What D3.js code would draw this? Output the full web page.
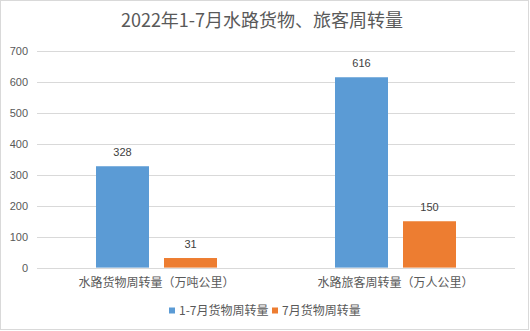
<!DOCTYPE html>
<html><head><meta charset="utf-8">
<script src="https://cdn.jsdelivr.net/npm/d3@7"></script>
<style>
html,body{margin:0;padding:0;background:#fff;}
svg{display:block;font-family:"Noto Sans CJK SC","Liberation Sans",sans-serif;}
</style></head>
<body>
<script>
const title = "2022年1-7月水路货物、旅客周转量";
const categories = ["水路货物周转量（万吨公里）", "水路旅客周转量（万人公里）"];
const seriesNames = ["1-7月货物周转量", "7月货物周转量"];
const series1 = [328, 616];
const series2 = [31, 150];
const yTicks = [0, 100, 200, 300, 400, 500, 600, 700];
const colors = ["#5b9bd5", "#ed7d31"];

(function () {
const W = 530, H = 331;
const svg = d3.select("body").append("svg").attr("width", W).attr("height", H);
svg.append("rect").attr("x", 0.5).attr("y", 0.5).attr("width", W - 2).attr("height", H - 2)
  .attr("fill", "#fff").attr("stroke", "#d9d9d9");

const pLeft = 37, pRight = 515, pTop = 51.3, pBottom = 267.6;
const x0 = d3.scaleBand().domain(categories).range([pLeft, pRight]);
const y = d3.scaleLinear().domain([0, 700]).range([pBottom, pTop]);

svg.append("text").attr("x", 262).attr("y", 27).attr("text-anchor", "middle")
  .attr("font-size", 18).attr("fill", "#595959").text(title);

svg.append("g").selectAll("line").data(yTicks).join("line")
  .attr("x1", pLeft).attr("x2", pRight)
  .attr("y1", d => Math.round(y(d)) + 0.5).attr("y2", d => Math.round(y(d)) + 0.5)
  .attr("stroke", "#d9d9d9").attr("stroke-width", 1);

const yAxis = svg.append("g").attr("transform", `translate(${pLeft - 9},0)`)
  .call(d3.axisLeft(y).tickValues(yTicks).tickSize(0).tickPadding(0));
yAxis.select(".domain").remove();
yAxis.selectAll("text").attr("font-size", 11).attr("fill", "#595959")
  .attr("font-family", "'Liberation Sans','Noto Sans CJK SC',sans-serif");

const groupW = 121;
const x1 = d3.scaleBand().domain([0, 1]).range([0, groupW]).paddingInner(15 / 68);

categories.forEach((c, i) => {
  const cx = x0(c) + x0.bandwidth() / 2;
  const startX = cx - groupW / 2;
  [series1[i], series2[i]].forEach((v, k) => {
    const bx = startX + x1(k);
    svg.append("rect").attr("x", bx).attr("y", y(v)).attr("width", x1.bandwidth())
      .attr("height", y(0) - y(v)).attr("fill", colors[k]);
    svg.append("text").attr("x", bx + x1.bandwidth() / 2).attr("y", y(v) - 10)
      .attr("text-anchor", "middle").attr("font-size", 11).attr("fill", "#404040")
      .attr("font-family", "'Liberation Sans','Noto Sans CJK SC',sans-serif")
      .text(v);
  });
  svg.append("text").attr("x", cx).attr("y", 287).attr("text-anchor", "middle")
    .attr("font-size", 12).attr("fill", "#595959").text(c);
});

const legendX = [169, 272];
seriesNames.forEach((n, k) => {
  svg.append("rect").attr("x", legendX[k]).attr("y", 307.5).attr("width", 6).attr("height", 6).attr("fill", colors[k]);
  svg.append("text").attr("x", legendX[k] + 10).attr("y", 315).attr("font-size", 12)
    .attr("fill", "#595959").text(n);
});
})();
</script>
</body></html>
